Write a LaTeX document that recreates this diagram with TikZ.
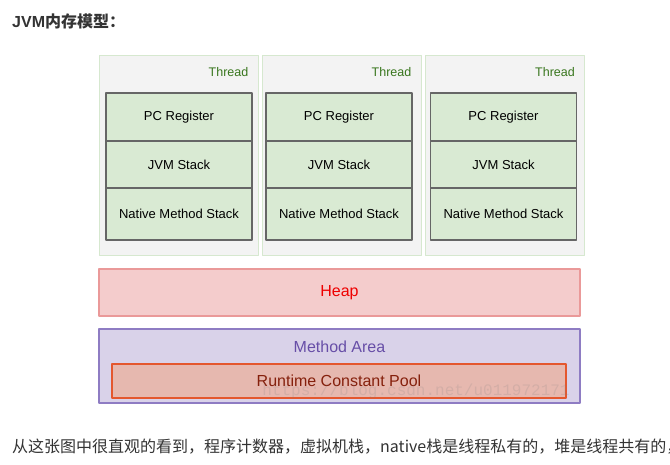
\documentclass[tikz,border=0pt]{standalone}
\usepackage{fontspec}
\setmainfont{Liberation Sans}
\newfontfamily\cjk{Noto Sans CJK SC}
\newfontfamily\wmfont{Liberation Mono}
\usetikzlibrary{positioning}

\begin{document}
\begin{tikzpicture}[x=1pt,y=-1pt,line join=round]
	\definecolor{threadfill}{HTML}{F3F3F3}
	\definecolor{threadline}{HTML}{D6E8CF}
	\definecolor{threadtext}{HTML}{38761D}
	\definecolor{partfill}{HTML}{D9EAD3}
	\definecolor{partline}{HTML}{666666}
	\definecolor{heapfill}{HTML}{F4CCCC}
	\definecolor{heapline}{HTML}{EA9999}
	\definecolor{heaptext}{HTML}{EE0000}
	\definecolor{areafill}{HTML}{D9D2E9}
	\definecolor{arealine}{HTML}{8E7CC3}
	\definecolor{areatext}{HTML}{674EA7}
	\definecolor{poolfill}{HTML}{E6B8AF}
	\definecolor{poolline}{HTML}{E4572E}
	\definecolor{pooltext}{HTML}{85200C}
	\definecolor{bodytext}{HTML}{333333}
	\tikzset{
		threadbox/.style={draw=threadline,fill=threadfill,line width=1pt,
			minimum width=159pt,minimum height=200pt,inner sep=0pt,outer sep=0pt},
		threadlabel/.style={text=threadtext,anchor=east,inner sep=0pt,
			font=\fontsize{12.5}{15}\selectfont},
		part/.style={draw=partline,fill=partfill,line width=1.4pt,
			minimum width=146pt,inner sep=0pt,outer sep=0pt,
			font=\fontsize{13}{15}\selectfont},
		shared/.style={line width=1.4pt,minimum width=481pt,inner sep=0pt,outer sep=0pt},
	}
	\fill[white] (0,0) rectangle (670,464);
	\useasboundingbox (0,0) rectangle (670,464);

	\node[anchor=base west,inner sep=0pt,text=bodytext,
		font=\bfseries\fontsize{16}{18}\selectfont] (title) at (12,27) {JVM{\cjk 内存模型：}};

	%% threads
	\foreach \t/\cx/\px in {1/178.5/179,2/341.5/339,3/505/503.5}{
		\node[threadbox] (thread\t) at (\cx,155.5) {};
		\node[threadlabel] (label\t) at (\cx+70,72) {Thread};
		\node[part,minimum height=48pt] (pc\t) at (\px,117) {\raisebox{-1.5pt}{PC Register}};
		\node[part,minimum height=47pt,below=0pt of pc\t] (jvm\t) {\raisebox{-1.5pt}{JVM Stack}};
		\node[part,minimum height=52pt,below=0pt of jvm\t] (native\t) {Native Method Stack};
	}

	%% heap
	\node[shared,draw=heapline,fill=heapfill,minimum height=47pt,text=heaptext,
		font=\fontsize{16}{18}\selectfont] (heap) at (339.5,292.5) {Heap};

	%% method area
	\node[shared,draw=arealine,fill=areafill,minimum height=74pt] (area) at (339.5,366) {};
	\node[text=areatext,inner sep=0pt,font=\fontsize{16}{18}\selectfont] (arealabel) at (339.5,347) {Method Area};
	\node[draw=poolline,fill=poolfill,line width=1.4pt,minimum width=454pt,minimum height=34pt,
		inner sep=0pt,text=pooltext,font=\fontsize{16}{18}\selectfont] (pool) at (339,381) {Runtime Constant Pool};
	\node[text=gray,opacity=.18,inner sep=0pt,font=\wmfont\fontsize{16}{18}\selectfont] (mark) at (416,391) {https://blog.csdn.net/u011972171};

	\node[anchor=base west,inner sep=0pt,text=bodytext,font=\cjk\fontsize{16}{18}\selectfont] (note) at (12,452)
		{从这张图中很直观的看到，程序计数器，虚拟机栈，native栈是线程私有的，堆是线程共有的，};
\end{tikzpicture}
\end{document}
